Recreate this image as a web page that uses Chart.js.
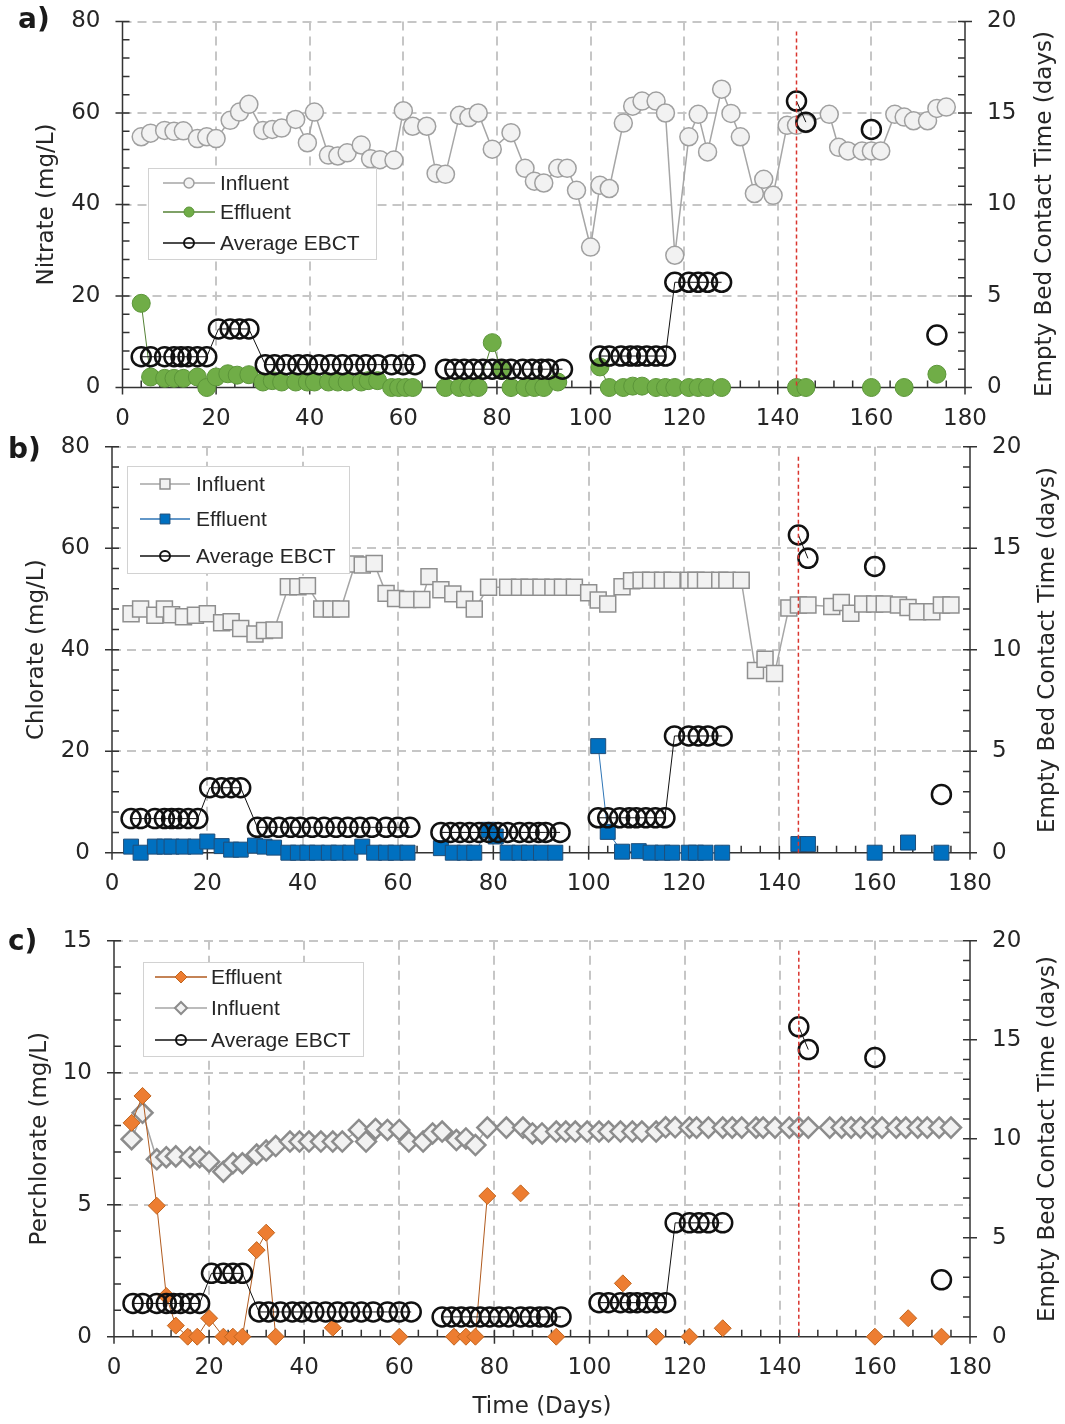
<!DOCTYPE html>
<html>
<head>
<meta charset="utf-8">
<title>Nitrate, chlorate and perchlorate over time</title>
<script src="https://cdn.jsdelivr.net/npm/chart.js@4.4.1/dist/chart.umd.min.js"></script>
<style>
  body { margin: 0; background: #fff; }
  #page { position: relative; width: 1065px; height: 1424px; overflow: hidden; }
  #page canvas { position: absolute; left: 0; }
</style>
</head>
<body>
<div id="page">
  <canvas id="nitrate" width="1065" height="460" style="top:-20px"></canvas>
  <canvas id="chlorate" width="1065" height="510" style="top:405px"></canvas>
  <canvas id="perchlorate" width="1065" height="529" style="top:895px"></canvas>
</div>
<script>
const FONT = 'DejaVu Sans';
const LEGEND_FONT = 'Liberation Sans';
const TEXT = '#262626';
const PAGE_W = 1065;

const dayMax = 180;
const dayStep = 20;
const redLineDay = 144;

// a) nitrate (mg/L); null = break in the line
const nitrateInfluentDays = [4, 6, 9, 11, 13, 16, 18, 20, 23, 25, 27, 30, 32, 34, 37, 39.5, 41, 44, 46, 48,
  51, 53, 55, 58, 60, 62, 65, 67, 69, 72, 74, 76, 79, 83, 86, 88, 90, 93, 95, 97,
  100, 102, 104, 107, 109, 111, 114, 116, 118, 121, 123, 125, 128, 130, 132, 135, 137, 139, 142, 144,
  146, 151, 153, 155, 158, 160, 162, 165, 167, 169, 172, 174, 176];
const nitrateInfluent = [54.8, 55.6, 56.2, 56.0, 56.1, 54.4, 54.8, 54.4, 58.4, 60.2, 61.9, 56.2, 56.4, 56.7, 58.6, 53.5, 60.2, 50.8, 50.6, 51.3,
  53.0, 50.0, 49.8, 49.7, 60.5, 57.1, 57.1, 46.8, 46.6, 59.5, 59.0, 60.0, 52.1, 55.7, 47.9, 45.1, 44.7, 47.9, 47.9, 43.1,
  30.7, 44.2, 43.5, 57.8, 61.5, 62.6, 62.6, 60.0, 28.9, 54.8, 59.7, 51.5, 65.2, 59.9, 54.8, 42.4, 45.5, 42.0, 57.3, 57.3,
  57.7, 59.7, 52.5, 51.7, 51.7, 51.7, 51.7, 59.7, 59.1, 58.3, 58.3, 61.0, 61.3];
const nitrateEffluentDays = [4, 6, 9, 11, 13, 16, 18, 20, 22.5, 24.5, 27, 30, 32, 34, 37, 39.5, 41, 44, 46, 48,
  51, 52.5, 54.5, 57.5, 59, 60.5, 62, null,
  69, 72, 74, 76, 79, 81, 83, 86, 88, 90, 93, null,
  102, 104, 107, 109, 111, 114, 116, 118, 121, 123, 125, 128, null,
  144, 146, null, 160, null, 167, null, 174];
const nitrateEffluent = [18.4, 2.3, 2.0, 2.0, 2.0, 2.3, 0, 2.3, 3.0, 2.7, 2.8, 1.2, 1.5, 1.2, 1.2, 1.2, 1.2, 1.2, 1.2, 1.2,
  1.2, 1.5, 1.5, 0, 0, 0, 0, null,
  0, 0, 0, 0, 9.8, 3.8, 0, 0, 0, 0, 1.2, null,
  4.5, 0, 0, 0.3, 0.3, 0, 0, 0, 0, 0, 0, 0, null,
  0, 0, null, 0, null, 0, null, 2.9];

// b) chlorate (mg/L)
const chlorateInfluentDays = [4, 6, 9, 11, 12.5, 15, 17.5, 20, 23, 25, 27, 30, 32, 34, 37, 39, 41, 44, 46, 48,
  51, 52.5, 55, 57.5, 59.5, 62, 65, 66.5, 69, 71.5, 74, 76, 79, 83, 85.5, 87.5, 90, 92.5, 94.5, 97,
  100, 102, 104, 107, 109, 111, 113, 115.5, 117.5, 121, 122.5, 124.5, 127.5, 129, 132, 135, 137, 139, 142, 144,
  146, 151, 153, 155, 157.5, 160, 162, 165, 167, 169, 172, 174, 176];
const chlorateInfluent = [47.1, 48.0, 46.8, 48.0, 46.9, 46.5, 46.8, 47.1, 45.3, 45.5, 44.2, 43.1, 43.8, 43.9, 52.4, 52.4, 52.6, 48.0, 48.0, 48.0,
  56.9, 56.7, 57.0, 51.1, 50.1, 49.9, 49.9, 54.4, 51.8, 51.0, 49.9, 48.0, 52.3, 52.3, 52.3, 52.3, 52.3, 52.3, 52.3, 52.3,
  51.2, 49.8, 49.0, 52.4, 53.6, 53.7, 53.7, 53.7, 53.7, 53.7, 53.7, 53.7, 53.7, 53.7, 53.7, 35.9, 38.1, 35.3, 48.2, 48.8,
  48.8, 48.5, 49.3, 47.2, 49.0, 49.0, 49.0, 48.8, 48.3, 47.5, 47.5, 48.8, 48.8];
const chlorateEffluentDays = [4, 6, 9, 11, 12.5, 15, 17.5, 20, 23, 25, 27, 30, 32, 34, 37, 39, 41, 43, 45.5, 47.5,
  50, 52.5, 55, 57.5, 59.5, 62, null,
  69, 71.5, 74, 76, 79, 80.5, 83, 85.5, 87.5, 90, 93, null,
  102, 104, 107, 110.5, 113, 115.5, 117.5, 121, 122.5, 124.5, 128, null,
  144, 146, null, 160, null, 167, null, 174];
const chlorateEffluent = [1.2, 0, 1.2, 1.2, 1.2, 1.2, 1.2, 2.2, 1.3, 0.6, 0.6, 1.4, 1.2, 1.0, 0, 0, 0, 0, 0, 0,
  0, 1.2, 0, 0, 0, 0, null,
  0.9, 0, 0, 0, 4.5, 3.2, 0, 0, 0, 0, 0, null,
  21, 4.1, 0.2, 0.3, 0, 0, 0, 0, 0, 0, 0, null,
  1.7, 1.7, null, 0, null, 2.0, null, 0];

// c) perchlorate (mg/L)
const perchlorateInfluentDays = [3.7, 6, 9, 11, 13, 16, 18, 20, 23, 25, 27, 30, 32, 34, 37, 39, 41, 43.5, 46, 48,
  51.5, 53, 55, 57.5, 60, 62, 65, 67, 69, 72, 74, 76, 78.5, 82.5, 86, 88, 90, 93, 95, 97,
  99.5, 102, 104, 106.5, 109, 111, 114, 116, 118, 121, 122.5, 125, 128, 130, 132, 135, 136.5, 139, 142, 144,
  146, 150.5, 153, 155, 157, 159.5, 161.5, 164.5, 166.5, 169, 171, 173.5, 176];
const perchlorateInfluent = [7.48, 8.48, 6.72, 6.8, 6.83, 6.8, 6.8, 6.63, 6.25, 6.57, 6.57, 6.9, 7.05, 7.22, 7.39, 7.39, 7.39, 7.39, 7.39, 7.39,
  7.83, 7.39, 7.87, 7.83, 7.83, 7.39, 7.39, 7.7, 7.77, 7.45, 7.51, 7.26, 7.92, 7.92, 7.92, 7.7, 7.7, 7.77, 7.77, 7.77,
  7.77, 7.77, 7.77, 7.77, 7.77, 7.77, 7.77, 7.93, 7.93, 7.92, 7.92, 7.92, 7.92, 7.92, 7.92, 7.92, 7.92, 7.92, 7.92, 7.92,
  7.92, 7.92, 7.92, 7.92, 7.92, 7.92, 7.92, 7.92, 7.92, 7.92, 7.92, 7.92, 7.92];
const perchlorateEffluentDays = [3.7, 6, 9, 11, 13, 15.5, 17.5, 20, 23, 25, 27, 30, 32, 34, null,
  46, null, 60, null, 71.5, 74, 76, 78.5, null, 85.5, null, 93, null, 107, null, 114, null, 121, null, 128, null,
  160, null, 167, null, 174];
const perchlorateEffluent = [8.1, 9.12, 4.96, 1.54, 0.42, 0, 0, 0.7, 0, 0, 0, 3.28, 3.94, 0, null,
  0.34, null, 0, null, 0, 0, 0, 5.33, null, 5.43, null, 0, null, 2.02, null, 0, null, 0, null, 0.32, null,
  0, null, 0.7, null, 0];

// average empty bed contact time (days), same run in every panel
const ebctDays = [4, 6, 9, 11, 12.5, 14, 16, 18, 20.5, 23, 25, 27,
  30.5, 32.5, 35, 37.5, 39.5, 42, 44.5, 47, 49.5, 52, 54.5, 57.5, 60, 62.5, null,
  69, 71, 73, 75, 77, 79, 81, 83, 85.5, 87.5, 89.5, 91, 94, null,
  102, 104, 106.5, 108.5, 110, 112, 114, 116, 118, 121, 123, 125, 128, null,
  144, 146, null, 160, null, 174];
const ebct = [1.68, 1.68, 1.68, 1.68, 1.68, 1.68, 1.68, 1.68, 3.2, 3.2, 3.2, 3.2,
  1.25, 1.25, 1.25, 1.25, 1.25, 1.25, 1.25, 1.25, 1.25, 1.25, 1.25, 1.25, 1.25, 1.25, null,
  1.0, 1.0, 1.0, 1.0, 1.0, 1.0, 1.0, 1.0, 1.0, 1.0, 1.0, 1.0, 1.0, null,
  1.72, 1.72, 1.72, 1.72, 1.72, 1.72, 1.72, 1.72, 5.75, 5.75, 5.75, 5.75, 5.75, null,
  15.65, 14.5, null, 14.1, null, 2.87];

const influentLine = '#a6a6a6';

const ebctSeries = { label: 'Average EBCT', days: ebctDays, values: ebct, axis: 'y1',
  shape: 'circle', r: 9.5, fill: 'rgba(0,0,0,0)', stroke: '#111', bw: 2.5, line: '#111', lw: 1, key: 5 };

// area = plot rectangle in page pixels, top = canvas offset on the page
const panels = [
  {
    id: 'nitrate', top: -20,
    area: { left: 122.5, right: 965, top: 21.5, bottom: 387.5 },
    yMax: 80, yStep: 20, yMinor: 4,
    yTitle: 'Nitrate (mg/L)', yTitleX: 47, rTitleX: 1045, rTitleY: 214,
    letter: 'a)', letterX: 18, letterY: 21,
    series: {
      influent: { label: 'Influent', days: nitrateInfluentDays, values: nitrateInfluent,
        shape: 'circle', r: 9, fill: '#f2f2f2', stroke: '#a0a0a0', bw: 1.5, line: influentLine, lw: 1.5, key: 5 },
      effluent: { label: 'Effluent', days: nitrateEffluentDays, values: nitrateEffluent,
        shape: 'circle', r: 9, fill: '#70ad47', stroke: '#5b9539', bw: 1, line: '#548235', lw: 1, key: 5 }
    },
    legendOrder: ['influent', 'effluent', 'ebct'],
    legend: { x: 148, y: 168, w: 228, h: 91, rows: [183, 212, 243], line: [163, 215], textX: 220 }
  },
  {
    id: 'chlorate', top: 405,
    area: { left: 112, right: 970, top: 446.7, bottom: 852.7 },
    yMax: 80, yStep: 20, yMinor: 4,
    yTitle: 'Chlorate (mg/L)', yTitleX: 37, rTitleX: 1048, rTitleY: 650,
    letter: 'b)', letterX: 8, letterY: 451,
    series: {
      influent: { label: 'Influent', days: chlorateInfluentDays, values: chlorateInfluent,
        shape: 'rect', r: 11.3, fill: '#f2f2f2', stroke: '#8f8f8f', bw: 1.5, line: influentLine, lw: 1.5, key: 7 },
      effluent: { label: 'Effluent', days: chlorateEffluentDays, values: chlorateEffluent,
        shape: 'rect', r: 10.6, fill: '#0070c0', stroke: '#1f4e79', bw: 1, line: '#2e75b6', lw: 1, key: 7 }
    },
    legendOrder: ['influent', 'effluent', 'ebct'],
    legend: { x: 127, y: 466, w: 222, h: 107, rows: [484, 519, 556], line: [140, 190], textX: 196 }
  },
  {
    id: 'perchlorate', top: 895,
    area: { left: 114, right: 970, top: 940.7, bottom: 1336.7 },
    yMax: 15, yStep: 5, yMinor: 1,
    yTitle: 'Perchlorate (mg/L)', yTitleX: 40, rTitleX: 1048, rTitleY: 1139,
    letter: 'c)', letterX: 8, letterY: 943,
    xTitle: 'Time (Days)', xTitleY: 1407,
    series: {
      influent: { label: 'Influent', days: perchlorateInfluentDays, values: perchlorateInfluent,
        shape: 'rectRot', r: 10, fill: '#f2f2f2', stroke: '#8c8c8c', bw: 2.5, line: influentLine, lw: 1.5, key: 6 },
      effluent: { label: 'Effluent', days: perchlorateEffluentDays, values: perchlorateEffluent,
        shape: 'rectRot', r: 8.5, fill: '#ed7d31', stroke: '#c0651f', bw: 1, line: '#b05a1e', lw: 1, key: 6 }
    },
    legendOrder: ['effluent', 'influent', 'ebct'],
    legend: { x: 143, y: 962, w: 220, h: 94, rows: [977, 1008, 1040], line: [155, 207], textX: 211 }
  }
];

function points(days, values) {
  return days.map((d, i) => ({ x: d, y: values[i] }));
}

function dataset(s) {
  return {
    label: s.label,
    data: points(s.days, s.values),
    yAxisID: s.axis || 'y',
    showLine: true,
    spanGaps: false,
    tension: 0,
    fill: false,
    clip: false,
    borderColor: s.line,
    borderWidth: s.lw,
    backgroundColor: s.fill,
    pointStyle: s.shape,
    pointRadius: s.r,
    pointBorderWidth: s.bw,
    pointBackgroundColor: s.fill,
    pointBorderColor: s.stroke
  };
}

function marker(ctx, s, x, y, r) {
  ctx.beginPath();
  if (s.shape === 'circle') {
    ctx.arc(x, y, r, 0, Math.PI * 2);
  } else if (s.shape === 'rect') {
    const h = r * Math.SQRT1_2;
    ctx.rect(x - h, y - h, 2 * h, 2 * h);
  } else {
    ctx.moveTo(x - r, y); ctx.lineTo(x, y - r); ctx.lineTo(x + r, y); ctx.lineTo(x, y + r);
    ctx.closePath();
  }
  ctx.fillStyle = s.fill;
  ctx.fill();
  ctx.lineWidth = Math.min(s.bw, 2);
  ctx.strokeStyle = s.stroke;
  ctx.stroke();
}

function seg(ctx, x1, y1, x2, y2) {
  ctx.moveTo(x1, y1);
  ctx.lineTo(x2, y2);
}

function rotatedText(ctx, text, x, y) {
  ctx.save();
  ctx.translate(x, y);
  ctx.rotate(-Math.PI / 2);
  ctx.fillText(text, 0, 0);
  ctx.restore();
}

// grid, axes, tick marks, red marker line, titles and legend box
function framePlugin(p) {
  return {
    id: 'frame',
    beforeDatasetsDraw(chart) {
      const { ctx, chartArea: a, scales: { x, y, y1 } } = chart;
      ctx.save();

      ctx.strokeStyle = '#c6c6c6';
      ctx.lineWidth = 2;
      ctx.setLineDash([9, 6]);
      ctx.beginPath();
      for (let d = dayStep; d < dayMax; d += dayStep) {
        const px = Math.round(x.getPixelForValue(d));
        seg(ctx, px, a.top, px, a.bottom);
      }
      for (let v = p.yStep; v <= p.yMax; v += p.yStep) {
        const py = Math.round(y.getPixelForValue(v));
        seg(ctx, a.left, py, a.right, py);
      }
      ctx.stroke();

      ctx.setLineDash([]);
      ctx.strokeStyle = '#333';
      ctx.lineWidth = 1.5;
      ctx.beginPath();
      seg(ctx, a.left, a.top, a.left, a.bottom + 0.75);
      seg(ctx, a.right, a.top, a.right, a.bottom + 0.75);
      seg(ctx, a.left, a.bottom, a.right, a.bottom);
      for (let d = 0; d <= dayMax; d += 4) {
        const px = x.getPixelForValue(d);
        seg(ctx, px, a.bottom - 7, px, a.bottom + (d % dayStep === 0 ? 7 : 0));
      }
      const nLeft = Math.round(p.yMax / p.yMinor);
      for (let i = 0; i <= nLeft; i++) {
        const v = i * p.yMinor;
        const py = y.getPixelForValue(v);
        const major = Math.abs(v / p.yStep - Math.round(v / p.yStep)) < 1e-6;
        seg(ctx, a.left - (major ? 7 : 0), py, a.left + 7, py);
      }
      for (let v = 0; v <= 20; v++) {
        const py = y1.getPixelForValue(v);
        seg(ctx, a.right - 7, py, a.right + (v % 5 === 0 ? 7 : 0), py);
      }
      ctx.stroke();
      ctx.restore();
    },
    afterDatasetsDraw(chart) {
      const { ctx, chartArea: a, scales: { x } } = chart;
      const px = x.getPixelForValue(redLineDay);
      ctx.save();
      ctx.strokeStyle = '#d9352e';
      ctx.lineWidth = 1.5;
      ctx.setLineDash([4, 3]);
      ctx.beginPath();
      seg(ctx, px, a.top + 10, px, a.bottom);
      ctx.stroke();
      ctx.restore();
    },
    afterDraw(chart) {
      const { ctx, chartArea: a } = chart;
      const t = p.top;
      const midY = (a.top + a.bottom) / 2;
      ctx.save();
      ctx.fillStyle = TEXT;
      ctx.textAlign = 'center';
      ctx.textBaseline = 'middle';
      ctx.font = `23px "${FONT}"`;
      rotatedText(ctx, p.yTitle, p.yTitleX, midY);
      rotatedText(ctx, 'Empty Bed Contact Time (days)', p.rTitleX, p.rTitleY - t);
      if (p.xTitle) ctx.fillText(p.xTitle, (a.left + a.right) / 2, p.xTitleY - t);

      ctx.font = `bold 28px "${FONT}"`;
      ctx.textAlign = 'left';
      ctx.fillStyle = '#1a1a1a';
      ctx.fillText(p.letter, p.letterX, p.letterY - t);

      // legend
      const L = p.legend;
      ctx.fillStyle = '#fff';
      ctx.fillRect(L.x, L.y - t, L.w, L.h);
      ctx.strokeStyle = '#d2d2d2';
      ctx.lineWidth = 1;
      ctx.strokeRect(L.x + 0.5, L.y - t + 0.5, L.w, L.h);
      ctx.font = `21px "${LEGEND_FONT}"`;
      p.legendOrder.forEach((k, i) => {
        const s = k === 'ebct' ? ebctSeries : p.series[k];
        const ry = L.rows[i] - t;
        ctx.strokeStyle = s.line;
        ctx.lineWidth = 1.5;
        ctx.beginPath();
        seg(ctx, L.line[0], ry, L.line[1], ry);
        ctx.stroke();
        marker(ctx, s, (L.line[0] + L.line[1]) / 2, ry, s.key);
        ctx.fillStyle = TEXT;
        ctx.fillText(s.label, L.textX, ry + 1);
      });
      ctx.restore();
    }
  };
}

const tickFont = { family: FONT, size: 23 };

panels.forEach(p => {
  const canvas = document.getElementById(p.id);
  const H = canvas.height;
  const a = p.area;
  new Chart(canvas, {
    type: 'line',
    data: {
      // first dataset is drawn on top
      datasets: [ebctSeries, p.series.effluent, p.series.influent].map(dataset)
    },
    options: {
      responsive: false,
      animation: false,
      events: [],
      layout: { padding: { top: a.top - p.top, left: 0, right: 0, bottom: 0 } },
      plugins: { legend: { display: false }, tooltip: { enabled: false } },
      scales: {
        x: {
          type: 'linear', min: 0, max: dayMax,
          grid: { display: false, drawTicks: false }, border: { display: false },
          ticks: { stepSize: dayStep, autoSkip: false, maxRotation: 0, padding: 18, color: TEXT, font: tickFont },
          afterFit: s => { s.height = H - (a.bottom - p.top); }
        },
        y: {
          position: 'left', min: 0, max: p.yMax,
          grid: { display: false, drawTicks: false }, border: { display: false },
          ticks: { stepSize: p.yStep, padding: 22, color: TEXT, font: tickFont },
          afterFit: s => { s.width = a.left; }
        },
        y1: {
          position: 'right', min: 0, max: 20,
          grid: { display: false, drawTicks: false }, border: { display: false },
          ticks: { stepSize: 5, padding: 22, color: TEXT, font: tickFont },
          afterFit: s => { s.width = PAGE_W - a.right; }
        }
      }
    },
    plugins: [framePlugin(p)]
  });
});
</script>
</body>
</html>
